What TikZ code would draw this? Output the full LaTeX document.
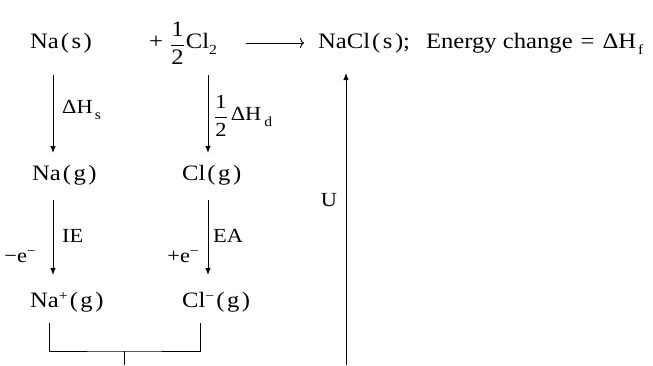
\documentclass[tikz,border=0pt]{standalone}
\usepackage{amsmath}
\usepackage{fontspec}
\setmainfont{Liberation Serif}[FakeStretch=1.12]
\usetikzlibrary{arrows.meta}
\newcommand{\pp}[1]{\hspace{2pt}(\hspace{2.5pt}#1\hspace{2.5pt})}
\newcommand{\lowsub}[1]{\raisebox{-6pt}{\fontsize{14}{14}\selectfont #1}}
\newcommand{\highsup}[1]{\raisebox{7pt}{\fontsize{14}{14}\selectfont #1}}
\newcommand{\half}{\raisebox{-2.5pt}{$\dfrac{\text{1}}{\text{2}}$}}
\tikzset{
  chem/.style={font=\fontsize{22}{26}\selectfont, inner sep=0pt},
  lbl/.style={font=\fontsize{20}{24}\selectfont, inner sep=0pt},
  arr/.style={line width=1pt, -{Latex[length=7pt,width=5.5pt]}},
  line/.style={line width=1pt},
  longarr/.style={line width=0.9pt, -{To[length=4pt,width=10pt]}}
}
\begin{document}
\begin{tikzpicture}[x=1pt,y=1pt]
\useasboundingbox (0,0) rectangle (653,-365);
% species
\node[chem, anchor=base west] (nas) at (30,-48) {Na\pp{s}};
\node[chem, anchor=base west] (cl2) at (149,-48) {+\hspace{7pt}\half\hspace{1pt}Cl\lowsub{2}};
\node[chem, anchor=base west] (nacl) at (318,-48) {NaCl\pp{s};\hspace{16pt}Energy change\hspace{8pt}=\hspace{8pt}ΔH\hspace{2pt}\lowsub{f}};
\node[chem, anchor=base west] (nag) at (32,-180) {Na\pp{g}};
\node[chem, anchor=base west] (clg) at (182,-180) {Cl\pp{g}};
\node[chem, anchor=base west] (nap) at (30,-307) {Na\highsup{+}\pp{g}};
\node[chem, anchor=base west] (clm) at (182,-307) {Cl\highsup{−}\pp{g}};
% labels
\node[lbl, anchor=base west] (l1) at (62,-113) {ΔH\hspace{2pt}\lowsub{s}};
\node[lbl, anchor=base west] (l2) at (214,-120) {\half\hspace{3pt}ΔH\hspace{3pt}\lowsub{d}};
\node[lbl, anchor=base west] (l3) at (62,-242) {IE};
\node[lbl, anchor=base west] (l4) at (213,-242) {EA};
\node[lbl, anchor=base east] (l5) at (36,-262) {−e\highsup{−}};
\node[lbl, anchor=base east] (l6) at (199,-262) {+e\highsup{−}};
\node[lbl] (u) at (329,-200) {U};
% helper coordinates
\coordinate (xa) at (53,0);
\coordinate (xb) at (208,0);
\coordinate (xu) at (346,0);
\coordinate (bl) at (49,0);
\coordinate (br) at (200,0);
\coordinate (j) at (124,-351);
\coordinate (stem) at (124,-365);
\coordinate (ub) at (346,-365);
% arrows
\draw[longarr] ([shift={(-72pt,5pt)}]nacl.base west) -- ([shift={(-14pt,5pt)}]nacl.base west);
\draw[arr] ([yshift=-27pt]nas.base -| xa) -- ([yshift=27pt]nag.base -| xa);
\draw[arr] ([yshift=-27pt]cl2.base -| xb) -- ([yshift=27pt]clg.base -| xb);
\draw[arr] ([yshift=-20pt]nag.base -| xa) -- ([yshift=32pt]nap.base -| xa);
\draw[arr] ([yshift=-20pt]clg.base -| xb) -- ([yshift=32pt]clm.base -| xb);
\draw[line] ([yshift=-16pt]nap.base -| bl) |- (j) -| ([yshift=-16pt]clm.base -| br);
\draw[line] (j) -- (stem);
\draw[arr] (ub) -- ([yshift=-25pt]nacl.base -| xu);
\end{tikzpicture}
\end{document}
